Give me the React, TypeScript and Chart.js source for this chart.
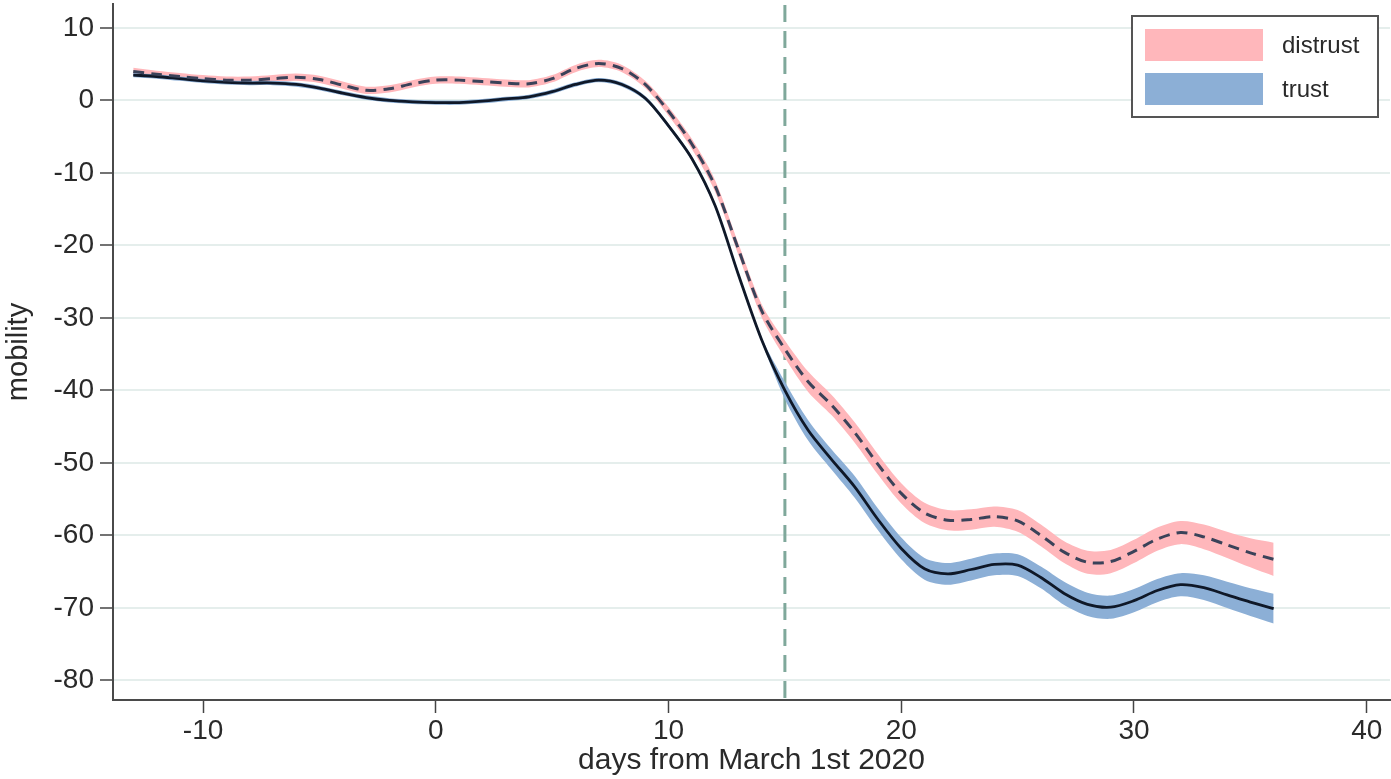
import React, { useEffect, useRef } from "react";
import { Chart, registerables } from "chart.js";

Chart.register(...registerables);

// Days relative to March 1st 2020
const days = [
  -13, -12, -11, -10, -9, -8, -7, -6, -5, -4, -3, -2, -1, 0, 1, 2, 3, 4, 5, 6, 7, 8, 9, 10, 11, 12,
  13, 14, 15, 16, 17, 18, 19, 20, 21, 22, 23, 24, 25, 26, 27, 28, 29, 30, 31, 32, 33, 34, 35, 36,
];

// Mean mobility, low-trust group
const distrust = [
  4.0, 3.6, 3.3, 3.0, 2.8, 2.8, 3.0, 3.2, 2.9, 2.1, 1.4, 1.6, 2.3, 2.8, 2.8, 2.6, 2.4, 2.3, 3.0, 4.4,
  5.1, 4.4, 2.2, -1.5, -6.0, -11.8, -20.5, -29.0, -34.3, -38.8, -42.0, -45.8, -50.2, -54.2, -56.9,
  -57.9, -57.8, -57.4, -58.0, -60.0, -62.3, -63.7, -63.6, -62.2, -60.5, -59.6, -60.2, -61.3, -62.4,
  -63.3,
];

// Mean mobility, high-trust group
const trust = [
  3.5, 3.3, 3.0, 2.7, 2.5, 2.4, 2.4, 2.2, 1.7, 1.0, 0.4, 0.0, -0.2, -0.3, -0.3, -0.1, 0.2, 0.5, 1.2,
  2.2, 2.8, 2.2, 0.3, -3.5, -8.0, -14.5, -24.0, -33.0, -40.0, -45.5, -49.5, -53.3, -57.8, -61.8,
  -64.6, -65.3, -64.7, -64.0, -64.1, -65.8, -68.0, -69.5, -69.9, -69.0, -67.6, -66.8, -67.2, -68.2,
  -69.2, -70.1,
];

// Confidence band half-widths
const distrustCI = [
  0.5, 0.5, 0.5, 0.5, 0.5, 0.5, 0.5, 0.5, 0.5, 0.5, 0.5, 0.5, 0.5, 0.5, 0.5, 0.5, 0.5, 0.5, 0.5, 0.5,
  0.5, 0.5, 0.5, 0.6, 0.7, 0.8, 0.8, 0.9, 1.2, 1.4, 1.4, 1.4, 1.4, 1.4, 1.4, 1.4, 1.4, 1.4, 1.5, 1.5,
  1.5, 1.6, 1.6, 1.6, 1.6, 1.6, 1.7, 1.8, 2.0, 2.3,
];

const trustCI = [
  0.3, 0.3, 0.3, 0.3, 0.3, 0.3, 0.3, 0.3, 0.3, 0.3, 0.3, 0.3, 0.3, 0.3, 0.3, 0.3, 0.3, 0.3, 0.3, 0.3,
  0.3, 0.3, 0.3, 0.3, 0.3, 0.3, 0.3, 0.3, 1.2, 1.4, 1.4, 1.5, 1.5, 1.5, 1.5, 1.5, 1.5, 1.5, 1.5, 1.5,
  1.6, 1.6, 1.6, 1.6, 1.6, 1.6, 1.7, 1.8, 1.9, 2.05,
];

const policyDay = 15;
const yTicks = [10, 0, -10, -20, -30, -40, -50, -60, -70, -80];
const xTicks = [-10, 0, 10, 20, 30, 40];
const legendLabels = ["distrust", "trust"];

const PINK = "#ffb7bb";
const BLUE = "#8cafd6";
const TEXT = "#2a2a2a";
const FONT = '"Liberation Sans", Arial, Helvetica, sans-serif';

const pts = (vals: number[]) => days.map((d, i) => ({ x: d, y: vals[i] }));
const band = (vals: number[], ci: number[], sign: number) =>
  days.map((d, i) => ({ x: d, y: vals[i] + sign * ci[i] }));

const policyLine = {
  id: "policyLine",
  beforeDatasetsDraw(chart: any) {
    const { ctx, chartArea, scales } = chart;
    const x = scales.x.getPixelForValue(policyDay);
    ctx.save();
    ctx.strokeStyle = "#7fa89b";
    ctx.lineWidth = 3;
    ctx.setLineDash([17, 9]);
    ctx.beginPath();
    ctx.moveTo(x, chartArea.top + 1);
    ctx.lineTo(x, chartArea.bottom);
    ctx.stroke();
    ctx.restore();
  },
};

const boxLegend = {
  id: "boxLegend",
  afterDraw(chart: any) {
    const { ctx, chartArea } = chart;
    const w = 246;
    const h = 101;
    const left = chartArea.right - 12 - w;
    const top = chartArea.top + 12;
    ctx.save();
    ctx.fillStyle = "#ffffff";
    ctx.fillRect(left, top, w, h);
    ctx.strokeStyle = "#555555";
    ctx.lineWidth = 2;
    ctx.strokeRect(left, top, w, h);
    const colors = [PINK, BLUE];
    ctx.font = `24px ${FONT}`;
    ctx.textBaseline = "middle";
    legendLabels.forEach((label, i) => {
      const sy = top + 13 + i * 44;
      ctx.fillStyle = colors[i];
      ctx.fillRect(left + 13, sy, 118, 32);
      ctx.fillStyle = TEXT;
      ctx.fillText(label, left + 150, sy + 17);
    });
    ctx.restore();
  },
};

export default function App() {
  const canvasRef = useRef<HTMLCanvasElement | null>(null);

  useEffect(() => {
    if (!canvasRef.current) return;
    Chart.defaults.font.family = FONT;
    const chart = new Chart(canvasRef.current, {
      type: "line",
      data: {
        datasets: [
          {
            label: "distrust upper",
            data: band(distrust, distrustCI, 1),
            borderWidth: 0,
            pointRadius: 0,
            fill: false,
            tension: 0.3,
            order: 10,
          },
          {
            label: "distrust lower",
            data: band(distrust, distrustCI, -1),
            borderWidth: 0,
            pointRadius: 0,
            backgroundColor: PINK,
            fill: "-1",
            tension: 0.3,
            order: 10,
          },
          {
            label: "trust upper",
            data: band(trust, trustCI, 1),
            borderWidth: 0,
            pointRadius: 0,
            fill: false,
            tension: 0.3,
            order: 9,
          },
          {
            label: "trust lower",
            data: band(trust, trustCI, -1),
            borderWidth: 0,
            pointRadius: 0,
            backgroundColor: BLUE,
            fill: "-1",
            tension: 0.3,
            order: 9,
          },
          {
            label: "trust",
            data: pts(trust),
            borderColor: "#0f1828",
            borderWidth: 2.8,
            pointRadius: 0,
            fill: false,
            tension: 0.3,
            order: 2,
          },
          {
            label: "distrust",
            data: pts(distrust),
            borderColor: "#3a4259",
            borderWidth: 3,
            borderDash: [11, 7],
            pointRadius: 0,
            fill: false,
            tension: 0.3,
            order: 1,
          },
        ],
      },
      options: {
        animation: false,
        responsive: false,
        devicePixelRatio: 1,
        layout: { padding: { top: 4, right: 1, left: 0, bottom: 0 } },
        plugins: {
          legend: { display: false },
          tooltip: { enabled: false },
        },
        scales: {
          x: {
            type: "linear",
            min: -13.87,
            max: 41.0,
            afterFit: (s: any) => {
              s.height = 79;
              s.paddingLeft = 0;
              s.paddingRight = 0;
            },
            afterBuildTicks: (s: any) => {
              s.ticks = xTicks.map((v) => ({ value: v }));
            },
            ticks: {
              font: { size: 28 },
              color: TEXT,
              padding: 1,
              maxRotation: 0,
            },
            grid: {
              drawOnChartArea: false,
              drawTicks: true,
              tickLength: 13,
              tickColor: "#444444",
              tickWidth: 1.5,
            },
            border: { color: "#4a4a4a", width: 2 },
            title: {
              display: true,
              text: "days from March 1st 2020",
              font: { size: 30 },
              color: TEXT,
              padding: { top: 0, bottom: 0 },
            },
          },
          y: {
            type: "linear",
            min: -82.7,
            max: 13.3,
            afterFit: (s: any) => {
              s.width = 113;
              s.paddingTop = 0;
              s.paddingBottom = 0;
            },
            afterBuildTicks: (s: any) => {
              s.ticks = yTicks.map((v) => ({ value: v }));
            },
            ticks: {
              font: { size: 28 },
              color: TEXT,
              padding: 6,
            },
            grid: {
              color: "#e5eeec",
              lineWidth: 2,
              tickLength: 13,
              tickColor: "#444444",
              tickWidth: 1.5,
            },
            border: { color: "#4a4a4a", width: 2 },
            title: {
              display: true,
              text: "mobility",
              font: { size: 29 },
              color: TEXT,
              padding: { top: 2, bottom: 0 },
            },
          },
        },
      },
      plugins: [policyLine, boxLegend],
    });
    return () => chart.destroy();
  }, []);

  return (
    <div style={{ position: "fixed", left: 0, top: 0, width: 1391, height: 779, background: "#ffffff" }}>
      <canvas ref={canvasRef} width={1391} height={779} style={{ display: "block" }} />
    </div>
  );
}
